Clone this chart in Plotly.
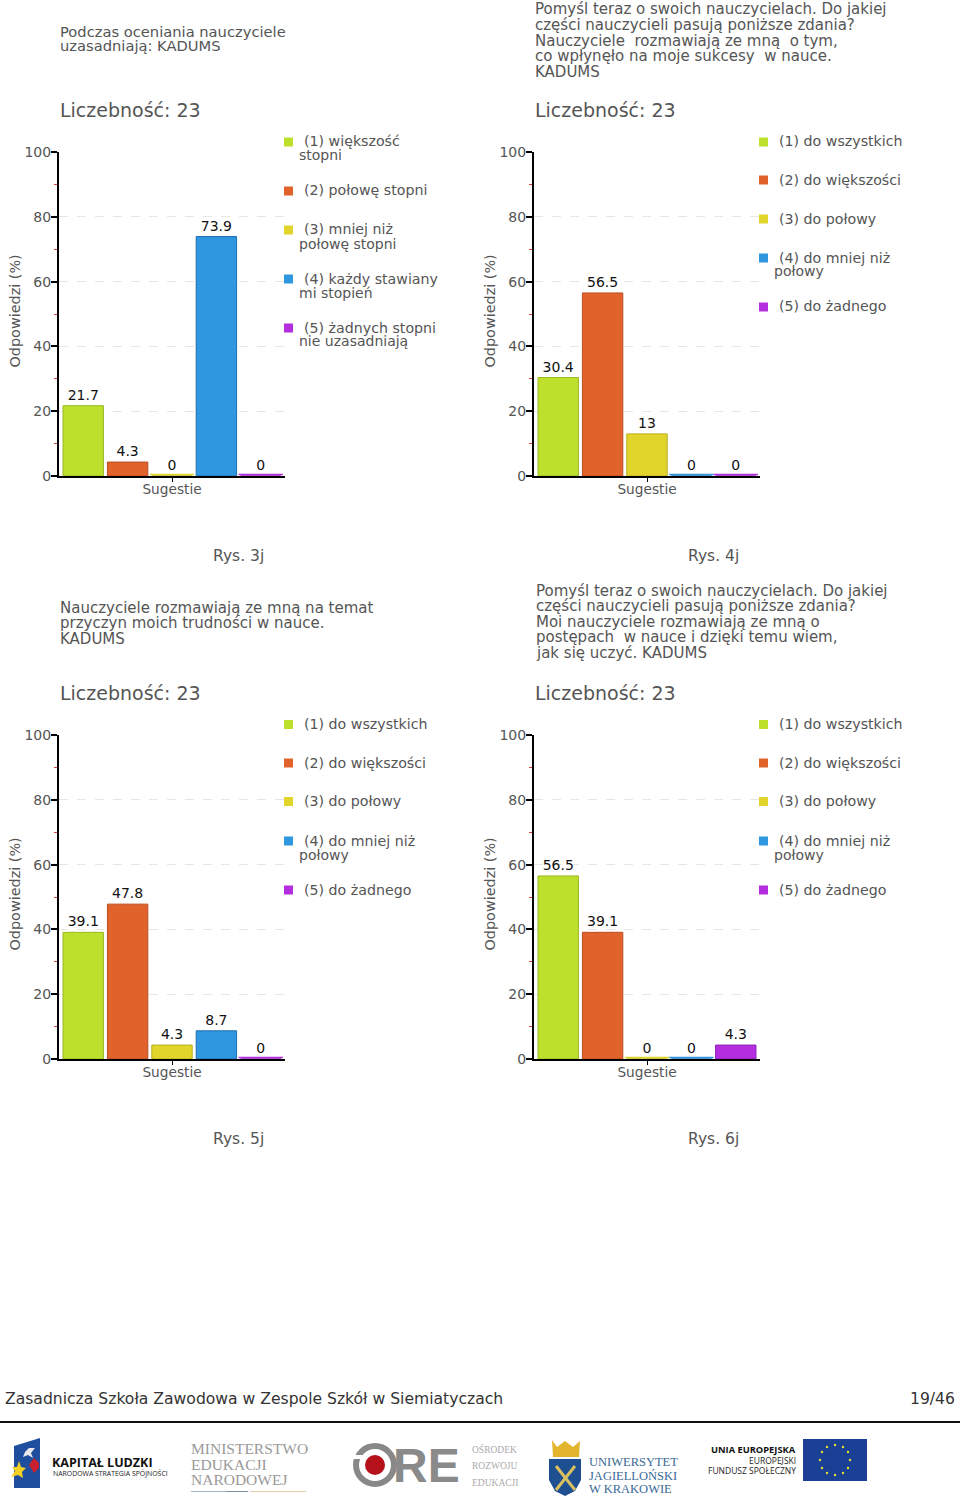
import plotly.graph_objects as go

W, H = 960, 1510
FONT = "DejaVu Sans"
GREY = "#555555"

# ---------- data ----------
category = ["Sugestie"]
values_3j = [21.7, 4.3, 0, 73.9, 0]
values_4j = [30.4, 56.5, 13, 0, 0]
values_5j = [39.1, 47.8, 4.3, 8.7, 0]
values_6j = [56.5, 39.1, 0, 0, 4.3]
bar_colors = ["#BCE02C", "#E2622B", "#E1D52B", "#2F96E0", "#B42EE0"]
bar_edges = ["#9AB822", "#B84E20", "#B8AD20", "#1F6EAE", "#8F20B8"]
count_label = "Liczebność: 23"
y_title = "Odpowiedzi (%)"

title_3j = ["Podczas oceniania nauczyciele", "uzasadniają: KADUMS"]
title_4j = ["Pomyśl teraz o swoich nauczycielach. Do jakiej",
            "części nauczycieli pasują poniższe zdania?",
            "Nauczyciele  rozmawiają ze mną  o tym,",
            "co wpłynęło na moje sukcesy  w nauce.",
            "KADUMS"]
title_5j = ["Nauczyciele rozmawiają ze mną na temat",
            "przyczyn moich trudności w nauce.",
            "KADUMS"]
title_6j = ["Pomyśl teraz o swoich nauczycielach. Do jakiej",
            "części nauczycieli pasują poniższe zdania?",
            "Moi nauczyciele rozmawiają ze mną o",
            "postępach  w nauce i dzięki temu wiem,",
            "jak się uczyć. KADUMS"]
legend_3j = [["(1) większość", "stopni"], ["(2) połowę stopni"],
             ["(3) mniej niż", "połowę stopni"],
             ["(4) każdy stawiany", "mi stopień"],
             ["(5) żadnych stopni", "nie uzasadniają"]]
legend_std = [["(1) do wszystkich"], ["(2) do większości"], ["(3) do połowy"],
              ["(4) do mniej niż", "połowy"], ["(5) do żadnego"]]
captions = ["Rys. 3j", "Rys. 4j", "Rys. 5j", "Rys. 6j"]
footer_left = "Zasadnicza Szkoła Zawodowa w Zespole Szkół w Siemiatyczach"
footer_right = "19/46"

BARGAP = 0.018
GROUPGAP = 0.09


def px(x):
    return x / W


def py(y):
    return 1 - y / H


annotations, shapes = [], []


def text(x, y, s, size=13, color=GREY, anchor="left", font=FONT, rot=0):
    nudge = {"left": -1.0, "right": 1.0, "center": 0}[anchor]
    annotations.append(dict(x=px(x + nudge), y=py(y), xref="paper", yref="paper", text=s,
                            showarrow=False, xanchor=anchor, yanchor="middle",
                            textangle=rot, borderpad=0, align="left",
                            font=dict(size=size, color=color, family=font)))


def rect(x0, y0, x1, y1, fill, line=None):
    shapes.append(dict(type="rect", xref="paper", yref="paper", x0=px(x0), x1=px(x1),
                       y0=py(y0), y1=py(y1), fillcolor=fill,
                       line=dict(width=1 if line else 0, color=line or fill)))


def circle(cx, cy, r, fill, line=None, lw=0):
    shapes.append(dict(type="circle", xref="paper", yref="paper", x0=px(cx - r), x1=px(cx + r),
                       y0=py(cy - r), y1=py(cy + r), fillcolor=fill,
                       line=dict(width=lw, color=line or fill)))


def poly(points, fill, line=None, lw=0):
    d = "M" + " L".join(f"{px(a):.5f},{py(b):.5f}" for a, b in points) + " Z"
    shapes.append(dict(type="path", xref="paper", yref="paper", path=d, fillcolor=fill,
                       line=dict(width=lw, color=line or fill)))


fig = go.Figure()

panels = [
    dict(v=values_3j, dx=0, dy=0, n="", title=title_3j, tx=59.5, ty=[31, 46], ts=14.7,
         leg=legend_3j, ly=[142, 191, 230, 279, 328], cap=captions[0]),
    dict(v=values_4j, dx=475, dy=0, n="2", title=title_4j, tx=535, ty=[9, 25, 41, 56, 72], ts=15,
         leg=legend_std, ly=[142, 180, 219, 258, 307], cap=captions[1]),
    dict(v=values_5j, dx=0, dy=583, n="3", title=title_5j, tx=59.5, ty=[608, 623, 639], ts=15,
         leg=legend_std, ly=[141.5, 180, 218.5, 258, 307], cap=captions[2]),
    dict(v=values_6j, dx=475, dy=583, n="4", title=title_6j, tx=536, ty=[591, 606, 622, 637, 653], ts=15,
         leg=legend_std, ly=[141.5, 180, 218.5, 258, 307], cap=captions[3]),
]

plot_w = 1 - BARGAP
for p in panels:
    dx, dy, n = p["dx"], p["dy"], p["n"]
    for i, (val, col, edge) in enumerate(zip(p["v"], bar_colors, bar_edges)):
        fig.add_trace(go.Bar(x=category, y=[val], text=[f"{val:g}"], textposition="outside",
                             textfont=dict(size=14, color="#111111", family=FONT),
                             cliponaxis=False, marker=dict(color=col, line=dict(color=edge, width=1)),
                             xaxis="x" + n, yaxis="y" + n, showlegend=False))
        if val == 0:
            # the source draws a zero value as a hairline resting on the axis
            left = -plot_w / 2 + i * plot_w / 5
            shapes.append(dict(type="line", xref="x" + n, yref="y" + n, x0=left, x1=left + plot_w / 5,
                               y0=0.45, y1=0.45, line=dict(color=col, width=1.5), layer="above"))
    xa = dict(domain=[px(59 + dx), px(285 + dx)], anchor="y" + n, showline=True, linecolor="black",
              linewidth=2, ticks="outside", ticklen=4, tickcolor="black", tickwidth=1,
              tickfont=dict(size=13.7, color=GREY, family=FONT), ticklabelstandoff=-4,
              showgrid=False, fixedrange=True)
    ya = dict(domain=[py(476 + dy), py(152 + dy)], anchor="x" + n, range=[0, 100], dtick=20, tick0=0,
              showline=True, linecolor="black", linewidth=2, ticks="outside", ticklen=6,
              tickcolor="black", tickwidth=1.5, tickfont=dict(size=14, color=GREY, family=FONT),
              ticklabelstandoff=-3,
              showgrid=True, gridcolor="#E6E6E6", griddash="dash", gridwidth=1, zeroline=False,
              minor=dict(dtick=10, tick0=0, ticks="outside", ticklen=3, tickcolor="#D04040",
                         tickwidth=1, showgrid=False), fixedrange=True)
    fig.update_layout({"xaxis" + n: xa, "yaxis" + n: ya})

    for yy, line in zip(p["ty"], p["title"]):
        text(p["tx"], yy, line, size=p["ts"])
    text(59.5 + dx, 110 + dy, count_label, size=19)
    text(14.5 + dx, 311 + dy, y_title, size=14.4, anchor="center", rot=-90)
    for k, (yy, item) in enumerate(zip(p["ly"], p["leg"])):
        rect(284 + dx, yy - 4.5 + dy, 293 + dx, yy + 4.5 + dy, bar_colors[k])
        text(304 + dx, yy - 0.5 + dy, item[0], size=14.2)
        if len(item) > 1:
            text(298.5 + dx, yy + 13.5 + dy, item[1], size=14)
    text(238 + dx, 556 + dy, p["cap"], size=15.5, anchor="center")

# ---------- footer ----------
text(5, 1399, footer_left, size=15.6, color="#333333")
text(955, 1399, footer_right, size=15.6, color="#333333", anchor="right")
rect(0, 1421, 960, 1423, "#111111")

# Kapitał Ludzki logo
poly([(14, 1446), (40, 1438), (40, 1488), (14, 1488)], "#1F4E9E")
poly([(29, 1448), (35, 1448), (31, 1453), (33, 1458), (28, 1455), (23, 1457), (25, 1452)], "#E8E8E8")
poly([(34, 1458), (39, 1463), (39, 1468), (34, 1473), (29, 1465)], "#C8202F")
poly([(19, 1461), (21, 1467), (26, 1468), (22, 1472), (23, 1478), (18, 1475), (11, 1477), (15, 1471), (12, 1467), (17, 1467)], "#F2D024")
text(52, 1462, "<b>KAPITAŁ LUDZKI</b>", size=12.5, color="#111111", font="Open Sans")
text(53, 1473, "NARODOWA STRATEGIA SPÓJNOŚCI", size=6.9, color="#222222", font="Open Sans")

# MEN logo
for yy, line in zip([1448, 1464, 1479], ["MINISTERSTWO", "EDUKACJI", "NARODOWEJ"]):
    text(191, yy, line, size=15.5, color="#999999", font="Liberation Serif")
rect(191, 1491, 226, 1492, "#A8B4C8")
rect(226, 1491, 248, 1492, "#8090A8")
rect(250, 1491, 306, 1492, "#EBCBA8")

# ORE logo
circle(375, 1465, 19, "rgba(0,0,0,0)", "#888888", 6)
circle(375, 1465, 10, "#B5121B")
rect(352, 1455, 362, 1459, "#FFFFFF")
text(393, 1465, "<b>RE</b>", size=48, color="#8A8A8A", font="Liberation Sans")
for yy, line in zip([1449, 1466, 1483], ["OŚRODEK", "ROZWOJU", "EDUKACJI"]):
    text(472, yy, line, size=9.5, color="#AAAAAA", font="Liberation Serif")

# UJ logo
poly([(552, 1440), (557, 1447), (565, 1441), (573, 1447), (580, 1441), (579, 1457), (553, 1457)], "#E3B52F")
poly([(549, 1459), (581, 1459), (581, 1480), (575, 1491), (565, 1496), (555, 1491), (549, 1480)], "#1D4F91")
shapes.append(dict(type="line", xref="paper", yref="paper", x0=px(556), y0=py(1466), x1=px(575), y1=py(1490),
                   line=dict(color="#D8C060", width=3)))
shapes.append(dict(type="line", xref="paper", yref="paper", x0=px(575), y0=py(1466), x1=px(556), y1=py(1490),
                   line=dict(color="#D8C060", width=3)))
for yy, line in zip([1462, 1476, 1489], ["UNIWERSYTET", "JAGIELLOŃSKI", "W KRAKOWIE"]):
    text(589, yy, line, size=12.5, color="#3A6A96", font="Liberation Serif")

# EU logo
text(796, 1449, "<b>UNIA EUROPEJSKA</b>", size=9.3, color="#111111", anchor="right", font="Open Sans")
text(796, 1460, "EUROPEJSKI", size=8.5, color="#222222", anchor="right", font="Open Sans")
text(796, 1470, "FUNDUSZ SPOŁECZNY", size=8.5, color="#222222", anchor="right", font="Open Sans")
rect(803, 1439, 867, 1481, "#1B3F94")
star_offsets = [(0, -15), (8, -13), (13, -8), (15, 0), (13, 8), (8, 13), (0, 15), (-8, 13), (-13, 8), (-15, 0), (-13, -8), (-8, -13)]
for ox, oy in star_offsets:
    circle(835 + ox, 1460 + oy, 1.2, "#E8E030")

fig.update_layout(width=W, height=H, autosize=False,
                  margin=dict(l=0, r=0, t=0, b=0, autoexpand=False),
                  paper_bgcolor="white", plot_bgcolor="white", barmode="group",
                  bargap=BARGAP, bargroupgap=GROUPGAP, annotations=annotations, shapes=shapes,
                  font=dict(family=FONT))

fig.write_html("out.html", post_script="document.body.style.margin='0';",
               config=dict(displayModeBar=False))
